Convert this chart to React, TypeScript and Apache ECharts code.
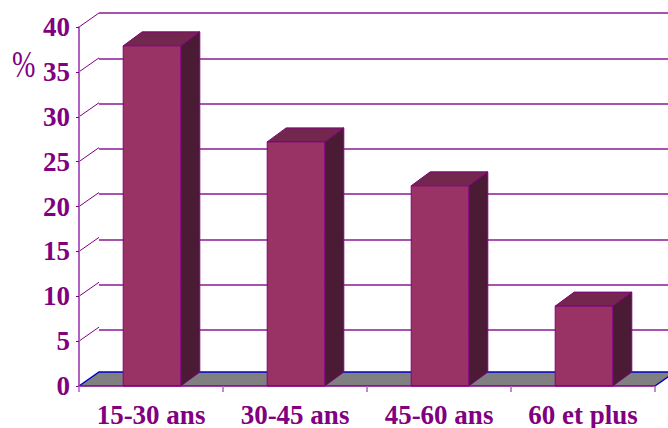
import React, { useEffect, useRef } from 'react';
import * as echarts from 'echarts';

// Age groups and their share (%)
const categories = ['15-30 ans', '30-45 ans', '45-60 ans', '60 et plus'];
const shares = [37.9, 27.2, 22.3, 8.9];
const yTicks = [0, 5, 10, 15, 20, 25, 30, 35, 40];
const unitLabel = '%';

// Front plane of the plot and the depth offset of the back wall
const PLOT = { left: 79, top: 27, width: 576, height: 362 };
const DEPTH = { dx: 20, dy: -14 };
const BAR_DEPTH = { dx: 19, dy: -14 };

const PURPLE = '#800080';
const LILAC = '#b160c2';
const FONT = '"Liberation Serif", "Times New Roman", serif';

export default function App() {
  const ref = useRef<HTMLDivElement>(null);

  useEffect(() => {
    const chart = echarts.init(ref.current!, null, { renderer: 'svg' });
    const yMin = yTicks[0];
    const yMax = yTicks[yTicks.length - 1];
    const yStep = yTicks[1] - yTicks[0];

    const option: any = {
      animation: false,
      backgroundColor: '#ffffff',
      grid: [
        { left: PLOT.left, top: PLOT.top, width: PLOT.width, height: PLOT.height },
        {
          left: PLOT.left + DEPTH.dx,
          top: PLOT.top + DEPTH.dy,
          width: PLOT.width,
          height: PLOT.height,
        },
      ],
      xAxis: [
        {
          type: 'category',
          gridIndex: 0,
          data: categories,
          z: 5,
          axisLine: { lineStyle: { color: PURPLE, width: 1.5 } },
          axisTick: { show: true, length: 6, lineStyle: { color: LILAC, width: 1.5 } },
          axisLabel: {
            interval: 0,
            margin: 15,
            color: PURPLE,
            fontFamily: FONT,
            fontWeight: 'bold',
            fontSize: 27,
          },
          splitLine: { show: false },
        },
        {
          type: 'category',
          gridIndex: 1,
          data: categories,
          show: false,
        },
      ],
      yAxis: [
        {
          type: 'value',
          gridIndex: 0,
          min: yMin,
          max: yMax,
          interval: yStep,
          z: 5,
          axisLine: { show: true, lineStyle: { color: LILAC, width: 2 } },
          axisTick: { show: true, length: 3, lineStyle: { color: PURPLE, width: 1 } },
          axisLabel: {
            margin: 9,
            color: PURPLE,
            fontFamily: FONT,
            fontWeight: 'bold',
            fontSize: 27,
          },
          splitLine: { show: false },
        },
        {
          type: 'value',
          gridIndex: 1,
          min: yMin,
          max: yMax,
          interval: yStep,
          axisLine: { show: false },
          axisTick: { show: false },
          axisLabel: { show: false },
          splitLine: { show: true, lineStyle: { color: '#8a1a94', width: 1.5 } },
        },
      ],
      graphic: [
        {
          type: 'text',
          x: 12,
          y: 46,
          scaleX: 0.76,
          style: {
            text: unitLabel,
            fill: PURPLE,
            font: `normal 37px ${FONT}`,
          },
        },
      ],
      series: [
        {
          // side wall diagonals and floor
          type: 'custom',
          xAxisIndex: 0,
          yAxisIndex: 0,
          z: 1,
          silent: true,
          data: [[0, 0]],
          renderItem: (params: any, api: any) => {
            const cs = params.coordSys;
            const x0 = cs.x;
            const x1 = cs.x + cs.width;
            const children: any[] = [];
            yTicks.forEach((t) => {
              const y = api.coord([0, t])[1];
              if (t === yMin) return;
              children.push({
                type: 'line',
                shape: { x1: x0, y1: y, x2: x0 + DEPTH.dx, y2: y + DEPTH.dy },
                style: { stroke: PURPLE, lineWidth: 1 },
              });
            });
            const yb = api.coord([0, yMin])[1];
            children.push({
              type: 'polygon',
              shape: {
                points: [
                  [x0, yb],
                  [x1, yb],
                  [x1 + DEPTH.dx, yb + DEPTH.dy],
                  [x0 + DEPTH.dx, yb + DEPTH.dy],
                ],
              },
              style: { fill: '#808080' },
            });
            children.push({
              type: 'polyline',
              shape: {
                points: [
                  [x0, yb],
                  [x0 + DEPTH.dx, yb + DEPTH.dy],
                  [x1 + DEPTH.dx, yb + DEPTH.dy],
                  [x1, yb],
                ],
              },
              style: { stroke: '#0000cc', lineWidth: 1.5, fill: null },
            });
            return { type: 'group', children };
          },
        },
        {
          // 3D columns
          type: 'custom',
          xAxisIndex: 0,
          yAxisIndex: 0,
          z: 3,
          data: shares.map((v, i) => [i, v]),
          renderItem: (params: any, api: any) => {
            const i = api.value(0);
            const v = api.value(1);
            const top = api.coord([i, v]);
            const base = api.coord([i, 0]);
            const bw = api.size([1, 0])[0] * 0.4;
            const L = top[0] - bw / 2 + 1;
            const R = L + bw;
            const T = top[1];
            const B = base[1];
            const dx = BAR_DEPTH.dx;
            const dy = BAR_DEPTH.dy;
            const edge = { stroke: PURPLE, lineWidth: 1, lineJoin: 'round' };
            return {
              type: 'group',
              children: [
                {
                  type: 'polygon',
                  shape: { points: [[R, B], [R + dx, B + dy], [R + dx, T + dy], [R, T]] },
                  style: { fill: '#4b1a34', ...edge },
                },
                {
                  type: 'polygon',
                  shape: { points: [[L, T], [R, T], [R + dx, T + dy], [L + dx, T + dy]] },
                  style: { fill: '#73264e', ...edge },
                },
                {
                  type: 'rect',
                  shape: { x: L, y: T, width: bw, height: B - T },
                  style: { fill: '#993366', ...edge },
                },
              ],
            };
          },
        },
      ],
    };

    chart.setOption(option);
    return () => chart.dispose();
  }, []);

  return (
    <div
      ref={ref}
      style={{ position: 'fixed', left: 0, top: 0, width: 668, height: 428, background: '#fff' }}
    />
  );
}
